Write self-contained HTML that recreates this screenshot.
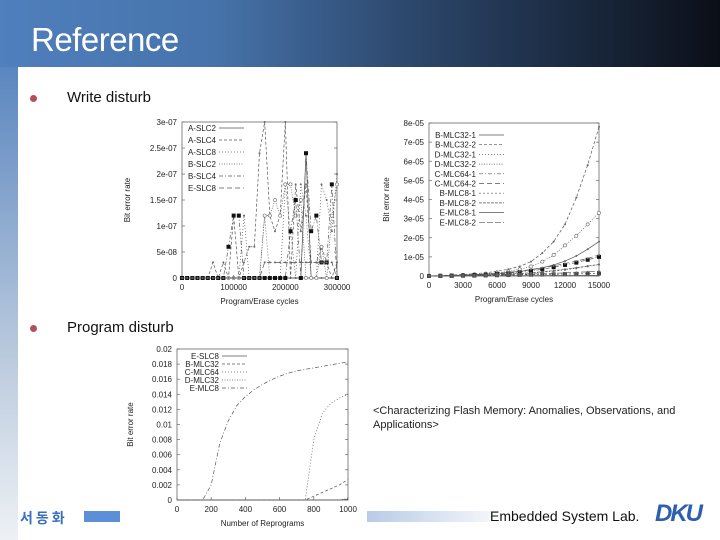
<!DOCTYPE html>
<html><head><meta charset="utf-8">
<style>
html,body{margin:0;padding:0;}
body{width:720px;height:540px;position:relative;overflow:hidden;background:#fff;font-family:"Liberation Sans",sans-serif;}
#hdr{position:absolute;left:0;top:0;width:720px;height:67px;background:linear-gradient(90deg,#4f7fbd 0%,#4673aa 30%,#2e4a70 55%,#0b0f18 100%);}
#lstrip{position:absolute;left:0;top:67px;width:18px;height:473px;background:linear-gradient(180deg,#5a86c0 0%,#b9c9dd 60%,#eef1f5 100%);}
#title{position:absolute;left:31px;top:21px;color:#fff;font-size:33px;letter-spacing:-0.5px;}
.bul{position:absolute;width:7px;height:7px;border-radius:50%;background:#b0505a;}
.btxt{position:absolute;font-size:15px;color:#111;}
svg text{font-family:"Liberation Sans",sans-serif;}
</style></head><body>
<div id="hdr"></div>
<div id="lstrip"></div>
<div id="title">Reference</div>
<div class="bul" style="left:30px;top:95px"></div>
<div class="btxt" style="left:67px;top:89px">Write disturb</div>
<div class="bul" style="left:30px;top:325px"></div>
<div class="btxt" style="left:67px;top:319px">Program disturb</div>
<div style="position:absolute;left:373px;top:404px;font-size:11px;color:#222;line-height:14px;width:340px">&lt;Characterizing Flash Memory: Anomalies, Observations, and Applications&gt;</div>
<div style="position:absolute;left:20px;top:508px;font-size:14px;color:#3b6fc0;font-weight:bold;font-family:'Liberation Sans','Noto Sans CJK KR',sans-serif;letter-spacing:3px">서동화</div>
<div style="position:absolute;left:84px;top:511px;width:36px;height:11px;background:#5b8fd8"></div>
<div style="position:absolute;left:367px;top:511px;width:125px;height:11px;background:linear-gradient(90deg,#b8cbe6,#f4f6fa)"></div>
<div style="position:absolute;left:490px;top:508px;font-size:14px;color:#111">Embedded System Lab.</div>
<div style="position:absolute;left:655px;top:500px;font-size:24px;font-weight:bold;font-style:italic;color:#2d5fb0;letter-spacing:-2px">DKU</div>
<svg id="svg" width="720" height="540" style="position:absolute;left:0;top:0"></svg>
<script>
// Chart 1: write disturb SLC (units 1e-8)
const c1X = [0,10000,20000,30000,40000,50000,60000,70000,80000,90000,100000,110000,120000,130000,140000,150000,160000,170000,180000,190000,200000,210000,220000,230000,240000,250000,260000,270000,280000,290000,300000];
const c1Names = ["A-SLC2","A-SLC4","A-SLC8","B-SLC2","B-SLC4","E-SLC8"];
const c1A_SLC2 = [0,0,0,0,0,0,0,0,0,0,0,0,0,0,0,0,0,0,0,0,0,0,0,0,24,0,0,0,0,0,0];
const c1A_SLC4 = [0,0,0,0,0,0,3,0,3,0,12,0,3,6,6,24,30,12,9,12,30,0,18,9,18,3,3,6,3,0,3];
const c1A_SLC8 = [0,0,0,0,0,0,0,0,0,0,0,0,12,0,0,0,12,0,0,0,18,9,0,18,12,0,0,18,15,9,20];
const c1B_SLC2 = [0,0,0,0,0,0,0,0,0,0,0,0,0,0,0,0,12,12,15,12,18,18,12,15,0,0,0,6,0,12,18];
const c1B_SLC4 = [0,0,0,0,0,0,0,0,0,6,12,12,0,0,0,0,0,0,0,0,0,9,15,0,24,9,12,3,3,18,0];
const c1E_SLC8 = [0,0,0,0,0,0,0,0,0,0,0,0,0,0,0,0,3,3,3,3,3,3,3,3,3,3,3,3,3,3,0];
const c1YTicks = ["0","5e-08","1e-07","1.5e-07","2e-07","2.5e-07","3e-07"];
const c1XTicks = ["0","100000","200000","300000"];
// Chart 2: MLC (units 1e-6)
const c2X = [0,1000,2000,3000,4000,5000,6000,7000,8000,9000,10000,11000,12000,13000,14000,15000];
const c2Names = ["B-MLC32-1","B-MLC32-2","D-MLC32-1","D-MLC32-2","C-MLC64-1","C-MLC64-2","B-MLC8-1","B-MLC8-2","E-MLC8-1","E-MLC8-2"];
const c2S1 = [0,0.1,0.3,0.5,0.7,1,1.3,1.8,2.4,3.2,4.3,5.8,7.8,10.5,14,18];
const c2S2 = [0,0.3,0.5,0.8,1.2,1.7,2.5,3.5,5,7.5,12,18,27,41,58,78];
const c2S3 = [0,0.1,0.2,0.3,0.4,0.5,0.7,0.9,1.2,1.5,2,2.5,3.2,4,5,6];
const c2S4 = [0,0.2,0.4,0.6,0.9,1.2,1.7,2.4,3.5,5,7.5,11,16,21,27,33];
const c2S5 = [0,0.1,0.2,0.3,0.5,0.7,1,1.4,2,2.7,3.5,4.6,5.8,7,8.5,10];
const c2S6 = [0,0.1,0.2,0.4,0.6,0.9,1.3,1.9,2.6,3.4,4.3,5.3,6.5,7.8,9.2,11];
const c2S7 = [0,0.05,0.1,0.15,0.2,0.3,0.4,0.5,0.6,0.7,0.8,0.9,1,1.1,1.2,1.3];
const c2S8 = [0,0.1,0.2,0.3,0.4,0.6,0.8,1,1.3,1.7,2.2,2.8,3.5,4.3,5.2,6];
const c2S9 = [0,0.02,0.04,0.06,0.08,0.1,0.12,0.15,0.18,0.2,0.22,0.25,0.28,0.3,0.32,0.35];
const c2S10 = [0,0.05,0.1,0.2,0.3,0.4,0.5,0.6,0.8,1,1.2,1.4,1.6,1.9,2.2,2.5];
const c2YTicks = ["0","1e-05","2e-05","3e-05","4e-05","5e-05","6e-05","7e-05","8e-05"];
const c2XTicks = ["0","3000","6000","9000","12000","15000"];
// Chart 3: program disturb (units 1e-3)
const c3X = [0,50,100,150,200,250,300,350,400,450,500,550,600,650,700,750,800,850,900,950,1000];
const c3Names = ["E-SLC8","B-MLC32","C-MLC64","D-MLC32","E-MLC8"];
const c3S1 = [0,0,0,0,0,0,0,0,0,0,0,0,0,0,0,0,0,0,0,0,0.1];
const c3S2 = [0,0,0,0,0,0,0,0,0,0,0,0,0,0,0,0,0.5,1,1.5,2,2.7];
const c3S3 = [0,0,0,0,0,0,0,0,0,0,0,0,0,0,0,0,8,11.5,12.8,13.5,14];
const c3S4 = [0,0,0,0,0,0,0,0,0,0,0,0,0,0,0,0,0,0,0,0,0.2];
const c3S5 = [0,0,0,0,2,7.5,10.5,12.5,13.7,14.6,15.3,15.9,16.4,16.8,17.1,17.3,17.5,17.7,17.9,18.1,18.3];
const c3YTicks = ["0","0.002","0.004","0.006","0.008","0.01","0.012","0.014","0.016","0.018","0.02"];
const c3XTicks = ["0","200","400","600","800","1000"];

const NS="http://www.w3.org/2000/svg";
const svg=document.getElementById('svg');
function mk(tag,attrs,parent){const e=document.createElementNS(NS,tag);for(const k in attrs)e.setAttribute(k,attrs[k]);(parent||svg).appendChild(e);return e;}
function chart(cfg){
  const g=mk('g',{});
  
  
  const sx=v=>cfg.x0+(v-cfg.xmin)/(cfg.xmax-cfg.xmin)*(cfg.x1-cfg.x0);
  const sy=v=>cfg.y0-(v-cfg.ymin)/(cfg.ymax-cfg.ymin)*(cfg.y0-cfg.y1);
  const fr=mk('rect',{x:cfg.x0,y:cfg.y1,width:cfg.x1-cfg.x0,height:cfg.y0-cfg.y1,fill:'none',stroke:'#666','stroke-width':0.8},g);
  
  
  cfg.yTicks.forEach((t,i)=>{const v=cfg.ymin+i*(cfg.ymax-cfg.ymin)/(cfg.yTicks.length-1);const y=sy(v);
    mk('line',{x1:cfg.x0,x2:cfg.x0+3,y1:y,y2:y,stroke:'#666','stroke-width':0.7},g);
    mk('line',{x1:cfg.x1,x2:cfg.x1-3,y1:y,y2:y,stroke:'#666','stroke-width':0.7},g);
    const tx=mk('text',{x:cfg.x0-5,y:y+3,'font-size':8,'text-anchor':'end',fill:'#222'},g);tx.textContent=t;
    
    });
  cfg.xTicks.forEach((t,i)=>{const v=cfg.xmin+i*(cfg.xmax-cfg.xmin)/(cfg.xTicks.length-1);const x=sx(v);
    mk('line',{x1:x,x2:x,y1:cfg.y0,y2:cfg.y0-3,stroke:'#666','stroke-width':0.7},g);
    const tx=mk('text',{x:x,y:cfg.y0+12,'font-size':8,'text-anchor':'middle',fill:'#222'},g);tx.textContent=t;
    
    });
  const xt=mk('text',{x:(cfg.x0+cfg.x1)/2,y:cfg.y0+26,'font-size':8,'text-anchor':'middle',fill:'#222'},g);xt.textContent=cfg.xTitle;
  
  
  const yx=cfg.yTitleX,yy=(cfg.y0+cfg.y1)/2;
  const yt=mk('text',{x:yx,y:yy,'font-size':8,'text-anchor':'middle',fill:'#222',transform:`rotate(-90 ${yx} ${yy})`},g);yt.textContent='Bit error rate';
  
  
  const dashes=['','3,2','1,2','1,1.5','4,2,1,2','5,3','2,2','3,1','','6,2'];
  const marks=['plus','v','x','circle','square','star','sq','tri','dot','x'];
  cfg.series.forEach((s,k)=>{
    const pts=cfg.xs.map((x,i)=>sx(x)+','+sy(s[i])).join(' ');
    const pl=mk('polyline',{points:pts,fill:'none',stroke:cfg.colors?cfg.colors[k]:'#555','stroke-width':0.7,'stroke-dasharray':dashes[k%dashes.length]},g);
    
    
    if(cfg.markers){cfg.xs.forEach((x,i)=>{const px=sx(x),py=sy(s[i]);const m=marks[k];
      let e;
      if(m==='square'||m==='sq')e=mk('rect',{x:px-2,y:py-2,width:4,height:4,fill:m==='square'?'#111':'#444'},g);
      else if(m==='circle')e=mk('circle',{cx:px,cy:py,r:1.6,fill:'#fff',stroke:'#666','stroke-width':0.6},g);
      else e=mk('circle',{cx:px,cy:py,r:1,fill:'#666'},g);
      
      });}
    const ly=cfg.legY+k*cfg.legDy;
    const lt=mk('text',{x:cfg.legX,y:ly+3,'font-size':8,'text-anchor':'end',fill:'#222'},g);lt.textContent=cfg.names[k];
    
    
    mk('line',{x1:cfg.legX+3,x2:cfg.legX+28,y1:ly,y2:ly,stroke:'#555','stroke-width':0.7,'stroke-dasharray':dashes[k%dashes.length]},g);
  });
}
chart({name:'write-disturb-slc-chart',x0:182,x1:337,y0:278,y1:122,xmin:0,xmax:300000,ymin:0,ymax:30,xs:c1X,
  series:[c1A_SLC2,c1A_SLC4,c1A_SLC8,c1B_SLC2,c1B_SLC4,c1E_SLC8],names:c1Names,yTicks:c1YTicks,xTicks:c1XTicks,
  xTitle:'Program/Erase cycles',yTitleX:130,legX:216,legY:128,legDy:12,markers:true});
chart({name:'write-disturb-mlc-chart',x0:429,x1:599,y0:276,y1:123,xmin:0,xmax:15000,ymin:0,ymax:80,xs:c2X,
  series:[c2S1,c2S2,c2S3,c2S4,c2S5,c2S6,c2S7,c2S8,c2S9,c2S10],names:c2Names,yTicks:c2YTicks,xTicks:c2XTicks,
  xTitle:'Program/Erase cycles',yTitleX:389,legX:476,legY:135,legDy:9.7,markers:true});
chart({name:'program-disturb-chart',x0:177,x1:348,y0:500,y1:349,xmin:0,xmax:1000,ymin:0,ymax:20,xs:c3X,
  series:[c3S1,c3S2,c3S3,c3S4,c3S5],names:c3Names,yTicks:c3YTicks,xTicks:c3XTicks,
  xTitle:'Number of Reprograms',yTitleX:133,legX:219,legY:356,legDy:8,markers:false});
</script>
</body></html>
